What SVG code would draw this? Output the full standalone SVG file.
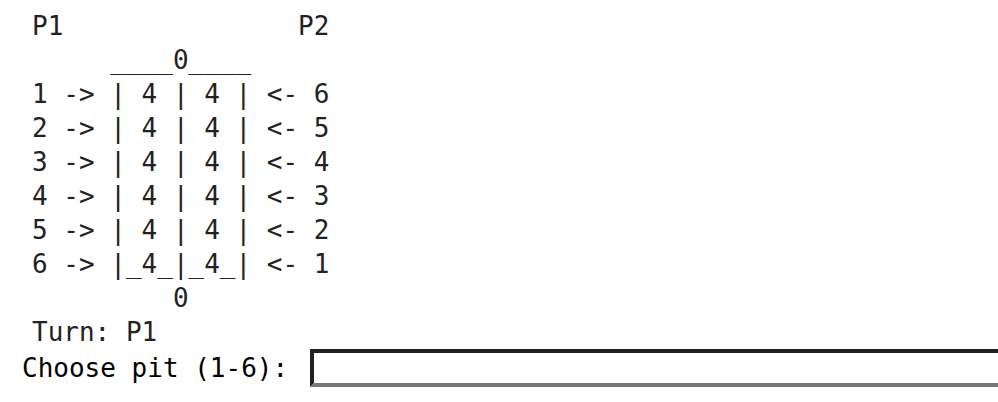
<svg xmlns="http://www.w3.org/2000/svg" width="998" height="402" viewBox="0 0 998 402">
<style>
.t{font-family:"DejaVu Sans Mono","Liberation Mono",monospace;font-size:26px;fill:#222;white-space:pre}
.p{fill:#000}
</style>
<rect width="998" height="402" fill="#fff"/>
<g id="board">
<text class="t" x="32" y="35" xml:space="preserve">P1               P2</text>
<text class="t" x="32" y="69" xml:space="preserve">     ____0____</text>
<text class="t" x="32" y="103" xml:space="preserve">1 -&gt; | 4 | 4 | &lt;- 6</text>
<text class="t" x="32" y="137" xml:space="preserve">2 -&gt; | 4 | 4 | &lt;- 5</text>
<text class="t" x="32" y="171" xml:space="preserve">3 -&gt; | 4 | 4 | &lt;- 4</text>
<text class="t" x="32" y="205" xml:space="preserve">4 -&gt; | 4 | 4 | &lt;- 3</text>
<text class="t" x="32" y="239" xml:space="preserve">5 -&gt; | 4 | 4 | &lt;- 2</text>
<text class="t" x="32" y="273" xml:space="preserve">6 -&gt; |_4_|_4_| &lt;- 1</text>
<text class="t" x="32" y="307" xml:space="preserve">         0</text>
<text class="t" x="32" y="341" xml:space="preserve">Turn: P1</text>
</g>
<g id="prompt">
<text class="t p" x="22" y="377" xml:space="preserve">Choose pit (1-6):</text>
<rect x="310" y="349" width="700" height="38" fill="#fff"/>
<polygon points="310,387 310,349 1000,349 1000,353 314,353 314,383" fill="#222"/>
<polygon points="310,387 314,383 1000,383 1000,387" fill="#777"/>
</g>
</svg>
